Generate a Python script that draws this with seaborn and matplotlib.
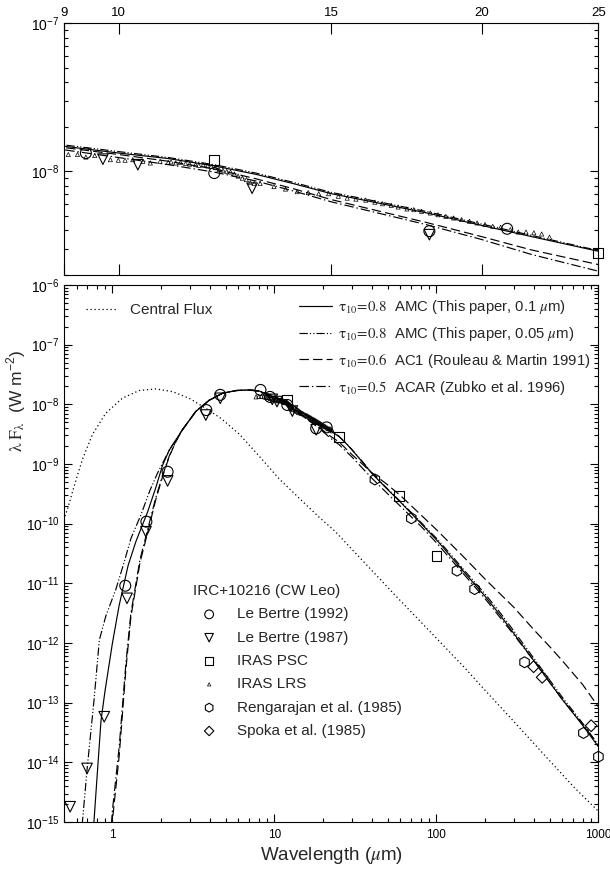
import numpy as np
import pandas as pd
import matplotlib
matplotlib.use("Agg")
import matplotlib.pyplot as plt
import matplotlib.ticker as mticker
import seaborn as sns

sns.set_style("ticks")
plt.rcParams["font.family"] = ["Liberation Sans", "DejaVu Sans"]
plt.rcParams["mathtext.fontset"] = "stix"
plt.rcParams["axes.linewidth"] = 0.8

# ---------------- model curves (wavelength in micron, lambda F_lambda in W m^-2) ----------------
wl_amc01 = [0.75, 0.77, 0.80, 0.85, 0.90, 1.0, 1.1, 1.25, 1.4, 1.65, 1.85, 2.04, 2.24, 2.7, 3.27,
            3.96, 4.78, 5.8, 7.0, 8.0, 9, 10, 11, 12, 13, 14, 15, 16, 18, 20, 22, 25, 28, 30, 35,
            40, 50, 60, 70, 80, 90, 100, 120, 150, 200, 250, 300, 400, 500, 600, 800, 1000]
flux_amc01 = [3.98e-16, 1.07e-15, 4.79e-15, 5.01e-14, 1.58e-13, 1.0e-12, 4.27e-12, 2.0e-11, 5.13e-11,
              1.58e-10, 3.98e-10, 9.55e-10, 1.70e-9, 3.72e-9, 7.59e-9, 1.17e-8, 1.53e-8, 1.70e-8,
              1.74e-8, 1.68e-8, 1.48e-8, 1.33e-8, 1.22e-8, 1.09e-8, 9.55e-9, 8.22e-9, 7.08e-9,
              6.38e-9, 5.25e-9, 4.32e-9, 3.63e-9, 2.89e-9, 2.14e-9, 1.74e-9, 1.07e-9, 6.92e-10,
              3.72e-10, 2.29e-10, 1.48e-10, 1.02e-10, 7.24e-11, 5.37e-11, 3.02e-11, 1.48e-11,
              6.03e-12, 2.82e-12, 1.45e-12, 5.01e-13, 2.19e-13, 1.12e-13, 4.17e-14, 1.82e-14]

wl_amc005 = [0.65, 0.70, 0.77, 0.83, 0.91, 1.05, 1.18, 1.30, 1.50, 1.70, 1.90, 2.1, 2.24, 2.7, 3.27,
             3.96, 4.78, 5.8, 7.0, 8.0, 9, 10, 11, 12, 13, 14, 15, 16, 18, 20, 22, 25, 28, 30, 35,
             40, 50, 60, 70, 80, 90, 100, 120, 150, 200, 250, 300, 400, 500, 600, 800, 1000]
flux_amc005 = [8.91e-16, 8.51e-15, 1.12e-13, 1.12e-12, 2.82e-12, 7.94e-12, 2.24e-11, 5.62e-11,
               1.41e-10, 3.55e-10, 7.08e-10, 1.20e-9, 1.70e-9, 3.72e-9, 7.59e-9, 1.17e-8, 1.53e-8,
               1.70e-8, 1.74e-8, 1.69e-8, 1.51e-8, 1.36e-8, 1.24e-8, 1.11e-8, 9.74e-9, 8.38e-9,
               7.22e-9, 6.51e-9, 5.36e-9, 4.41e-9, 3.70e-9, 2.92e-9, 2.16e-9, 1.76e-9, 1.09e-9,
               7.05e-10, 3.80e-10, 2.35e-10, 1.53e-10, 1.06e-10, 7.6e-11, 5.7e-11, 3.25e-11,
               1.6e-11, 6.6e-12, 3.1e-12, 1.6e-12, 5.5e-13, 2.4e-13, 1.22e-13, 4.5e-14, 1.95e-14]

wl_ac1 = [0.95, 1.0, 1.1, 1.21, 1.30, 1.48, 1.685, 1.85, 2.04, 2.24, 2.46, 2.7, 3.27, 3.96, 4.78,
          5.8, 7.0, 8.0, 9, 10, 11, 12, 13, 14, 15, 16, 18, 20, 22, 25, 30, 40, 50, 60, 80, 100,
          150, 200, 300, 400, 500, 600, 800, 1000]
flux_ac1 = [1.58e-16, 1.07e-15, 1.26e-14, 3.55e-13, 2.75e-12, 2.24e-11, 8.91e-11, 2.51e-10, 6.17e-10,
            1.32e-9, 2.34e-9, 3.72e-9, 7.59e-9, 1.17e-8, 1.53e-8, 1.70e-8, 1.74e-8, 1.67e-8,
            1.45e-8, 1.30e-8, 1.17e-8, 1.04e-8, 8.91e-9, 7.59e-9, 6.46e-9, 5.69e-9, 4.52e-9,
            3.63e-9, 2.95e-9, 2.35e-9, 1.45e-9, 7.08e-10, 4.47e-10, 2.95e-10, 1.41e-10, 7.94e-11,
            2.63e-11, 1.17e-11, 3.98e-12, 1.66e-12, 8.71e-13, 5.01e-13, 2.0e-13, 8.51e-14]

wl_acar = [0.95, 1.0, 1.1, 1.21, 1.30, 1.48, 1.685, 1.85, 2.04, 2.24, 2.46, 2.7, 3.27, 3.96, 4.78,
           5.8, 7.0, 8.0, 9, 10, 11, 12, 13, 14, 15, 16, 18, 20, 22, 25, 30, 40, 50, 60, 80, 100,
           150, 200, 300, 400, 500, 600, 800, 1000]
flux_acar = [2.51e-16, 1.58e-15, 1.78e-14, 4.47e-13, 3.16e-12, 2.51e-11, 1.0e-10, 2.69e-10, 6.46e-10,
             1.35e-9, 2.40e-9, 3.72e-9, 7.59e-9, 1.17e-8, 1.53e-8, 1.70e-8, 1.73e-8, 1.64e-8,
             1.40e-8, 1.24e-8, 1.11e-8, 9.89e-9, 8.61e-9, 7.33e-9, 6.24e-9, 5.50e-9, 4.37e-9,
             3.47e-9, 2.75e-9, 2.12e-9, 1.32e-9, 5.75e-10, 3.16e-10, 1.95e-10, 9.12e-11, 4.79e-11,
             1.35e-11, 5.50e-12, 1.38e-12, 5.01e-13, 2.19e-13, 1.12e-13, 4.27e-14, 1.91e-14]

wl_central = [0.50, 0.526, 0.579, 0.651, 0.751, 0.909, 1.15, 1.46, 1.85, 2.35, 2.98, 3.78, 4.7, 6.07,
              8.0, 10.7, 14.3, 19.0, 23.5, 35.0, 56.5, 90.8, 150, 204, 290, 484, 714, 1000]
flux_central = [1.15e-10, 1.70e-10, 4.17e-10, 1.17e-9, 3.09e-9, 7.08e-9, 1.26e-8, 1.70e-8, 1.81e-8,
                1.63e-8, 1.26e-8, 8.51e-9, 5.75e-9, 3.16e-9, 1.38e-9, 5.62e-10, 2.63e-10, 1.26e-10,
                7.59e-11, 2.40e-11, 6.03e-12, 1.58e-12, 3.80e-13, 1.51e-13, 5.37e-14, 1.17e-14,
                3.72e-15, 1.51e-15]

# ---------------- photometry of IRC+10216 ----------------
wl_lebertre92 = [1.2, 1.62, 2.19, 3.8, 4.63, 8.2, 9.39, 12.0, 18.1, 21.0]
flux_lebertre92 = [9.1e-12, 1.08e-10, 7.4e-10, 8.0e-9, 1.44e-8, 1.74e-8, 1.33e-8, 9.75e-9, 3.95e-9, 4.1e-9]

wl_lebertre87 = [0.548, 0.697, 0.89, 1.23, 1.61, 2.19, 3.77, 4.63, 9.70, 10.37, 12.9, 18.1]
flux_lebertre87 = [1.8e-15, 7.9e-15, 5.8e-14, 5.6e-12, 7.3e-11, 5.2e-10, 6.6e-9, 1.26e-8,
                   1.21e-8, 1.11e-8, 7.7e-9, 3.74e-9]

wl_psc = [12.0, 25.0, 59.0, 100.0]
flux_psc = [1.2e-8, 2.82e-9, 2.9e-10, 2.87e-11]

wl_lrs = [7.7, 8.0, 8.3, 8.6, 8.85, 9.08, 9.24, 9.39, 9.55, 9.84, 9.99, 10.12, 10.27, 10.47, 10.62,
          10.82, 10.99, 11.05, 11.15, 11.25, 11.36, 11.45, 11.58, 11.65, 11.75, 11.85, 11.93, 12.02,
          12.11, 12.2, 12.29, 12.38, 12.47, 12.56, 12.66, 12.76, 12.86, 12.95, 13.10, 13.45, 13.75,
          14.06, 14.36, 14.65, 14.93, 15.21, 15.47, 15.73, 16.03, 16.31, 16.55, 16.83, 17.05, 17.34,
          17.57, 17.83, 18.13, 18.40, 18.68, 18.96, 19.25, 19.54, 19.83, 20.13, 20.43, 20.74, 21.13,
          21.45, 21.77, 22.10, 22.43, 22.77]
flux_lrs = [1.33e-8, 1.36e-8, 1.36e-8, 1.34e-8, 1.31e-8, 1.30e-8, 1.30e-8, 1.25e-8, 1.28e-8, 1.20e-8,
            1.19e-8, 1.19e-8, 1.20e-8, 1.17e-8, 1.14e-8, 1.17e-8, 1.15e-8, 1.16e-8, 1.14e-8, 1.15e-8,
            1.13e-8, 1.12e-8, 1.11e-8, 1.10e-8, 1.11e-8, 1.09e-8, 1.08e-8, 1.06e-8, 1.03e-8, 1.02e-8,
            1.00e-8, 9.9e-9, 9.6e-9, 9.3e-9, 9.0e-9, 8.8e-9, 8.4e-9, 8.3e-9, 8.3e-9, 7.9e-9, 7.6e-9,
            7.3e-9, 7.2e-9, 7.07e-9, 7.07e-9, 6.8e-9, 6.6e-9, 6.5e-9, 6.4e-9, 6.2e-9, 6.05e-9, 5.9e-9,
            5.75e-9, 5.58e-9, 5.52e-9, 5.38e-9, 5.24e-9, 5.1e-9, 4.97e-9, 4.85e-9, 4.73e-9, 4.61e-9,
            4.49e-9, 4.38e-9, 4.26e-9, 4.2e-9, 4.05e-9, 3.9e-9, 3.9e-9, 3.85e-9, 3.78e-9, 3.6e-9]

wl_rengarajan = [41.7, 70.0, 134.0, 172.0, 350.0, 808.0, 1000.0]
flux_rengarajan = [5.5e-10, 1.23e-10, 1.63e-11, 8.0e-12, 4.75e-13, 3.1e-14, 1.24e-14]

wl_spoka = [398.0, 450.0, 902.0]
flux_spoka = [4.0e-13, 2.66e-13, 4.1e-14]

model_labels = [
    r"$\mathrm{\tau_{10}\!=\!0.8}$  AMC (This paper, 0.1 $\mu$m)",
    r"$\mathrm{\tau_{10}\!=\!0.8}$  AMC (This paper, 0.05 $\mu$m)",
    r"$\mathrm{\tau_{10}\!=\!0.6}$  AC1 (Rouleau & Martin 1991)",
    r"$\mathrm{\tau_{10}\!=\!0.5}$  ACAR (Zubko et al. 1996)",
]
data_labels = ["Le Bertre (1992)", "Le Bertre (1987)", "IRAS PSC", "IRAS LRS",
               "Rengarajan et al. (1985)", "Spoka et al. (1985)"]

models = [
    (wl_amc01, flux_amc01, "-"),
    (wl_amc005, flux_amc005, (0, (7, 1.8, 1, 1.8, 1, 1.8))),
    (wl_ac1, flux_ac1, (0, (8, 3.5))),
    (wl_acar, flux_acar, (0, (8, 2.5, 1.2, 2.5))),
]
datasets = [
    (wl_lebertre92, flux_lebertre92, "o", 62),
    (wl_lebertre87, flux_lebertre87, "v", 58),
    (wl_psc, flux_psc, "s", 50),
    (wl_lrs, flux_lrs, "^", 9),
    (wl_rengarajan, flux_rengarajan, "h", 62),
    (wl_spoka, flux_spoka, "D", 36),
]


def draw_curve(ax, wl, flux, style, lw=0.85):
    df = pd.DataFrame({"wl": wl, "flux": flux})
    sns.lineplot(data=df, x="wl", y="flux", ax=ax, color="black", linestyle=style,
                 linewidth=lw, estimator=None, sort=False)
    return ax.lines[-1]


def draw_points(ax, wl, flux, marker, size, lo=None, hi=None):
    df = pd.DataFrame({"wl": wl, "flux": flux})
    if lo is not None:
        df = df[(df.wl >= lo) & (df.wl <= hi)]
    lw = 0.5 if marker == "^" else 0.8
    sns.scatterplot(data=df, x="wl", y="flux", ax=ax, marker=marker, s=size,
                    facecolor="none", edgecolor="black", linewidth=lw, zorder=3, clip_on=False)
    return ax.collections[-1]


fig = plt.figure(figsize=(6.10, 8.69), dpi=100)
ax_top = fig.add_axes([0.1044, 0.6836, 0.8766, 0.2896])
ax_bot = fig.add_axes([0.1044, 0.0541, 0.8766, 0.6180])

for ax in (ax_top, ax_bot):
    ax.set_xscale("log")
    ax.set_yscale("log")

# ---------------- lower panel: full SED ----------------
central_line = draw_curve(ax_bot, wl_central, flux_central, (0, (1, 2.2)), lw=0.9)
model_lines = [draw_curve(ax_bot, w, f, s) for w, f, s in models]
data_pts = [draw_points(ax_bot, w, f, m, s) for w, f, m, s in datasets]

ax_bot.set_xlim(0.5, 1000)
ax_bot.set_ylim(1e-15, 1e-6)
ax_bot.xaxis.set_major_locator(mticker.FixedLocator([1, 10, 100, 1000]))
ax_bot.xaxis.set_major_formatter(mticker.FuncFormatter(lambda v, p: f"{v:g}"))
ax_bot.xaxis.set_minor_locator(mticker.LogLocator(base=10, subs=np.arange(2, 10), numticks=20))
ax_bot.xaxis.set_minor_formatter(mticker.NullFormatter())
ax_bot.yaxis.set_major_locator(mticker.LogLocator(base=10, numticks=20))
ax_bot.yaxis.set_minor_locator(mticker.LogLocator(base=10, subs=np.arange(2, 10), numticks=20))
ax_bot.yaxis.set_minor_formatter(mticker.NullFormatter())
ax_bot.set_xlabel(r"Wavelength ($\mu$m)", fontsize=13.5, labelpad=3)
ax_bot.set_ylabel(r"$\mathrm{\lambda\ F_{\lambda}}$  (W m$^{\mathdefault{-2}}$)", fontsize=12.5)
ax_bot.yaxis.set_label_coords(-0.066, 0.784)

leg_c = ax_bot.legend([central_line], ["Central Flux"], loc="upper left",
                      bbox_to_anchor=(0.0417, 0.966), frameon=False, fontsize=11,
                      borderpad=0, borderaxespad=0, handlelength=2.1, handletextpad=0.75)
ax_bot.add_artist(leg_c)
leg_m = ax_bot.legend(model_lines, model_labels, loc="upper left",
                      bbox_to_anchor=(0.440, 0.976), frameon=False, fontsize=10.7,
                      borderpad=0, borderaxespad=0, handlelength=2.2, handletextpad=0.4,
                      labelspacing=0.6)
ax_bot.add_artist(leg_m)
leg_d = ax_bot.legend(data_pts, data_labels, loc="upper left", bbox_to_anchor=(0.2306, 0.4544),
                      frameon=False, fontsize=11, title="IRC+10216 (CW Leo)", title_fontsize=11,
                      borderpad=0.4, borderaxespad=0, handlelength=2.1, handletextpad=0.8,
                      labelspacing=0.61, markerscale=0.8, alignment="left")

# ---------------- upper panel: 9-25 micron detail ----------------
for w, f, s in models:
    draw_curve(ax_top, w, f, s)
for w, f, m, s in datasets:
    draw_points(ax_top, w, f, m, s, lo=9, hi=25)

ax_top.set_xlim(9, 25)
ax_top.set_ylim(2e-9, 1e-7)
ax_top.xaxis.set_major_locator(mticker.FixedLocator([9, 10, 15, 20, 25]))
ax_top.xaxis.set_major_formatter(mticker.FuncFormatter(lambda v, p: f"{v:g}"))
ax_top.xaxis.set_minor_locator(mticker.NullLocator())
ax_top.yaxis.set_major_locator(mticker.LogLocator(base=10, numticks=20))
ax_top.yaxis.set_minor_locator(mticker.LogLocator(base=10, subs=np.arange(2, 10), numticks=20))
ax_top.yaxis.set_minor_formatter(mticker.NullFormatter())
ax_top.xaxis.label.set_visible(False)
ax_top.yaxis.label.set_visible(False)

for ax in (ax_top, ax_bot):
    ax.tick_params(which="both", direction="in", top=True, right=True, colors="black",
                   width=0.8)
    ax.tick_params(which="major", length=6, labelsize=10, pad=3)
    ax.tick_params(which="minor", length=3)
    for sp in ax.spines.values():
        sp.set_color("black")
        sp.set_linewidth(0.8)
ax_top.tick_params(axis="x", labeltop=True, labelbottom=False, labelsize=9.5, length=8, pad=3)
ax_bot.tick_params(axis="x", labelsize=8.5, pad=5)

fig.savefig("out.png", dpi=100, facecolor="white")
